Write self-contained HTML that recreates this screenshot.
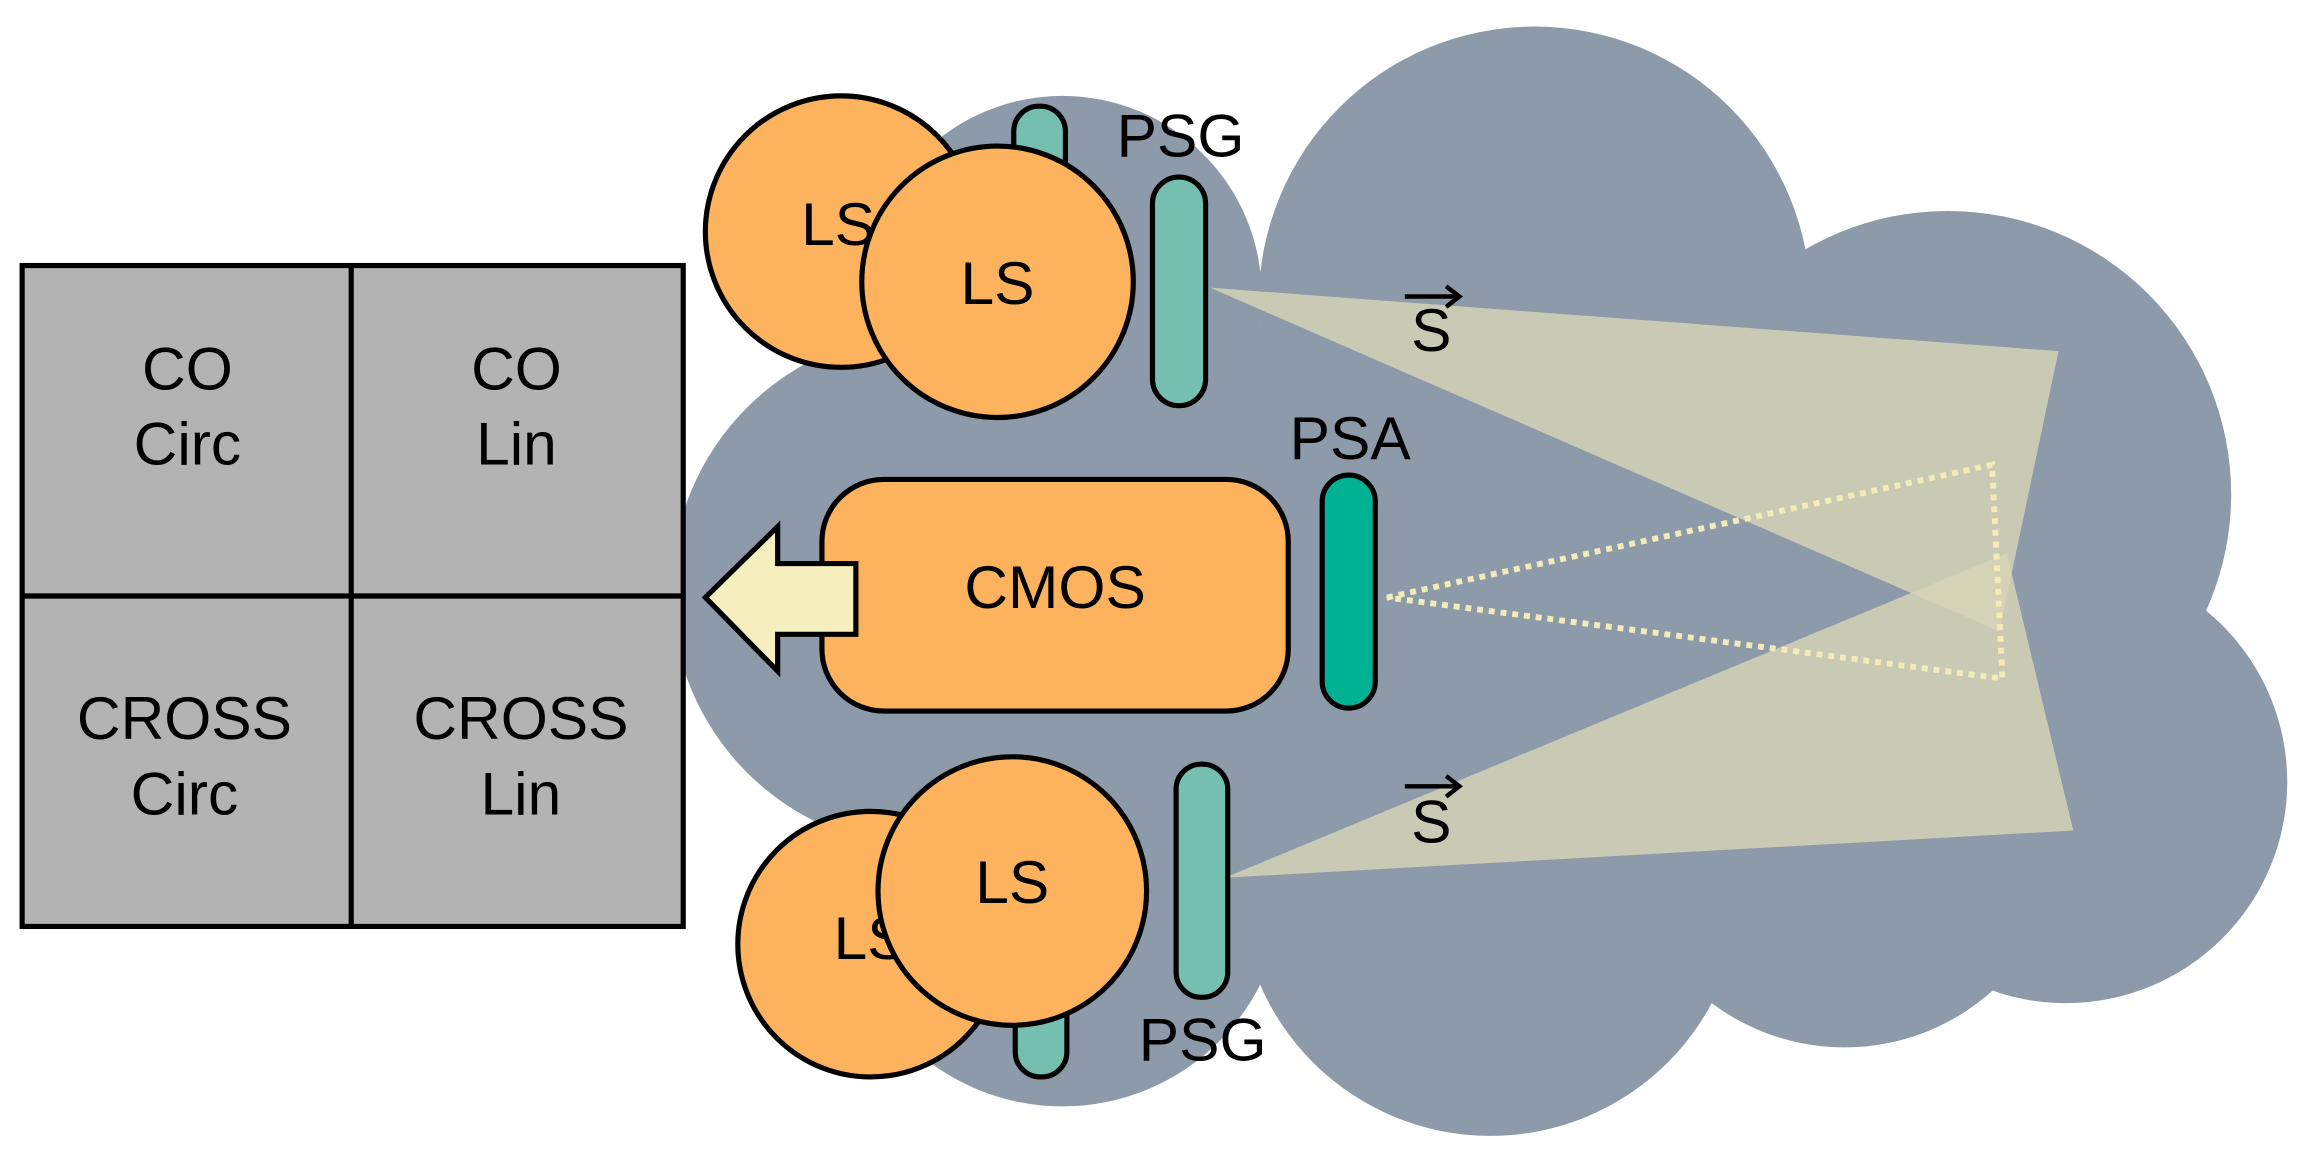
<!DOCTYPE html>
<html><head><meta charset="utf-8"><style>html,body{margin:0;padding:0;background:#fff}svg{display:block}</style></head>
<body>
<svg width="2302" height="1161" viewBox="0 0 1560 787" preserveAspectRatio="none" xmlns="http://www.w3.org/2000/svg" font-family="Liberation Sans, sans-serif">
<g fill="#8c9aaa">
<circle cx="1040" cy="205" r="187"/>
<circle cx="720" cy="200" r="135"/>
<circle cx="1320" cy="335" r="192"/>
<circle cx="1400" cy="530" r="150"/>
<circle cx="1010" cy="600" r="170"/>
<circle cx="1250" cy="560" r="150"/>
<ellipse cx="630" cy="400" rx="175" ry="175"/>
<ellipse cx="720" cy="600" rx="150" ry="150"/>
<rect x="640" y="220" width="720" height="420"/>
</g>
<polygon points="820,195 1395,238 1355,428" fill="#d7d4b6" opacity="0.82"/>
<polygon points="830,595 1405,563 1360,375" fill="#d7d4b6" opacity="0.82"/>
<polygon points="940,405 1350,315 1357,460" fill="none" stroke="#f3ebb8" stroke-width="4" stroke-dasharray="4,4"/>
<g stroke="#000" stroke-width="3.5">
<rect x="15" y="180" width="448" height="448" fill="#b3b3b3"/>
<line x1="238" y1="180" x2="238" y2="628"/>
<line x1="15" y1="404" x2="463" y2="404"/>
<rect x="687" y="72" width="35" height="90" rx="17" fill="#74bfb0"/>
<rect x="688" y="640" width="35" height="90" rx="17" fill="#74bfb0"/>
<circle cx="570" cy="157" r="92" fill="#fdb35d"/>
</g>
<text x="568" y="166" font-size="41" text-anchor="middle">LS</text>
<circle cx="590" cy="640" r="90" fill="#fdb35d" stroke="#000" stroke-width="3.5"/>
<text x="590" y="650" font-size="41" text-anchor="middle">LS</text>
<g stroke="#000" stroke-width="3.5">
<circle cx="676" cy="191" r="92" fill="#fdb35d"/>
<circle cx="686" cy="604" r="91" fill="#fdb35d"/>
<rect x="781" y="120" width="36" height="155" rx="18" fill="#74bfb0"/>
<rect x="797" y="518" width="35" height="158" rx="17" fill="#74bfb0"/>
<rect x="896" y="322" width="36" height="158" rx="18" fill="#00b294"/>
<rect x="557" y="325" width="316" height="157" rx="42" fill="#fdb35d"/>
</g>
<polygon points="478,405 527,357 527,382 580,382 580,430 527,430 527,455" fill="#f5efc0" stroke="#000" stroke-width="3.5" stroke-linejoin="miter"/>
<g font-size="41" text-anchor="middle" fill="#000">
<text x="676" y="206">LS</text>
<text x="686" y="612">LS</text>
<text x="715" y="412">CMOS</text>
<text x="800" y="106">PSG</text>
<text x="915" y="311">PSA</text>
<text x="815" y="719">PSG</text>
<text x="127" y="264">CO</text>
<text x="127" y="315">Circ</text>
<text x="350" y="264">CO</text>
<text x="350" y="315">Lin</text>
<text x="125" y="501">CROSS</text>
<text x="125" y="552">Circ</text>
<text x="353" y="501">CROSS</text>
<text x="353" y="552">Lin</text>
<text x="970" y="238">S</text>
<text x="970" y="571">S</text>
</g>
<g stroke="#000" stroke-width="3" fill="none">
<path d="M952 201 H988 M980 194 L989 201 L980 208"/>
<path d="M952 533 H988 M980 526 L989 533 L980 540"/>
</g>
</svg>
</body></html>
